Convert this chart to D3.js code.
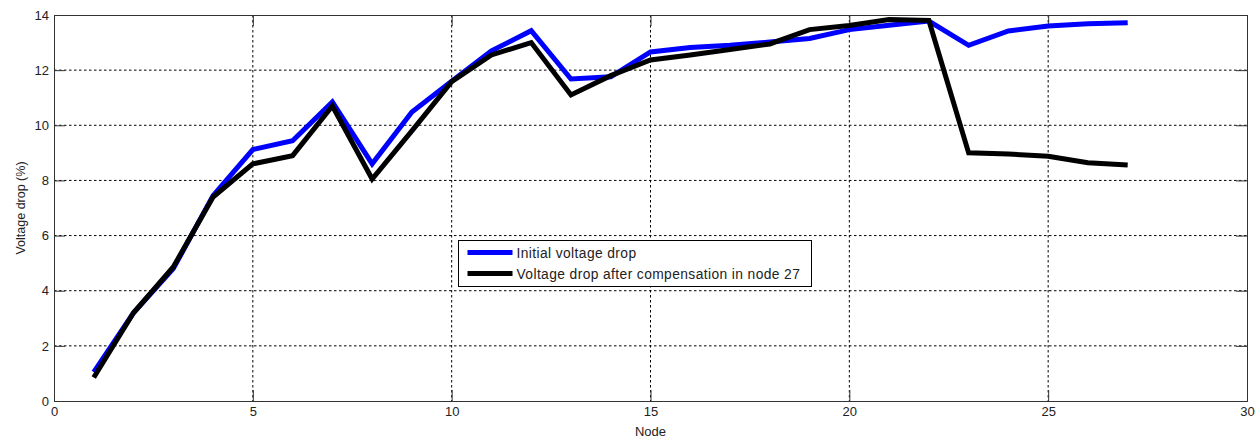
<!DOCTYPE html>
<html>
<head>
<meta charset="utf-8">
<script src="https://cdn.jsdelivr.net/npm/d3@7"></script>
<style>
  body { margin: 0; background: #fff; }
  svg text { font-family: "Liberation Sans", Arial, sans-serif; fill: #222; }
</style>
</head>
<body>
<svg id="chart" width="1260" height="440"></svg>
<script>
// data
const nodes = [1,2,3,4,5,6,7,8,9,10,11,12,13,14,15,16,17,18,19,20,21,22,23,24,25,26,27];
const initialDrop = [1.05,3.2,4.8,7.45,9.12,9.44,10.85,8.6,10.48,11.6,12.7,13.43,11.68,11.76,12.66,12.82,12.9,13.02,13.15,13.47,13.63,13.78,12.9,13.42,13.6,13.68,13.72];
const compensatedDrop = [0.85,3.2,4.86,7.4,8.6,8.9,10.7,8.05,9.8,11.58,12.55,13.0,11.1,11.8,12.37,12.55,12.75,12.95,13.47,13.62,13.84,13.8,9.0,8.96,8.88,8.64,8.56];
const xTicks = [0,5,10,15,20,25,30];
const yTicks = [0,2,4,6,8,10,12,14];
const seriesNames = ['Initial voltage drop', 'Voltage drop after compensation in node 27'];
const seriesColors = ['#0000ff', '#000000'];

const svg = d3.select('#chart');
const margin = {left: 54, top: 15, right: 13, bottom: 39};
const width = +svg.attr('width');
const height = +svg.attr('height');
const innerWidth = width - margin.left - margin.right;
const innerHeight = height - margin.top - margin.bottom;

const chart = svg.append('g')
  .attr('transform', `translate(${margin.left},${margin.top})`);

const xScale = d3.scaleLinear().domain([0, 30]).range([0, innerWidth]);
const yScale = d3.scaleLinear().domain([0, 14]).range([innerHeight, 0]);

// dotted grid
chart.append('g').selectAll('line.gx')
  .data(xTicks.slice(1, -1))
  .join('line')
  .attr('x1', d => xScale(d)).attr('x2', d => xScale(d))
  .attr('y1', 0).attr('y2', innerHeight)
  .attr('stroke', '#000').attr('stroke-width', 1)
  .attr('stroke-dasharray', '2.5,2.5');

chart.append('g').selectAll('line.gy')
  .data(yTicks.slice(1, -1))
  .join('line')
  .attr('x1', 0).attr('x2', innerWidth)
  .attr('y1', d => yScale(d)).attr('y2', d => yScale(d))
  .attr('stroke', '#000').attr('stroke-width', 1)
  .attr('stroke-dasharray', '2.5,2.5');

// axes, ticks pointing inwards like matlab
const tickLen = 11;
const xAxisG = chart.append('g')
  .attr('transform', `translate(0,${innerHeight})`)
  .call(d3.axisBottom(xScale).tickValues(xTicks).tickSize(-tickLen).tickPadding(6));
const yAxisG = chart.append('g')
  .call(d3.axisLeft(yScale).tickValues(yTicks).tickSize(-tickLen).tickPadding(5));
const xTopG = chart.append('g')
  .call(d3.axisTop(xScale).tickValues(xTicks).tickSize(-tickLen).tickFormat(''));
const yRightG = chart.append('g')
  .attr('transform', `translate(${innerWidth},0)`)
  .call(d3.axisRight(yScale).tickValues(yTicks).tickSize(-tickLen).tickFormat(''));

// top and right axes only carry tick marks
xTopG.selectAll('.tick text').remove();
yRightG.selectAll('.tick text').remove();

[xAxisG, yAxisG, xTopG, yRightG].forEach(g => {
  g.select('.domain').attr('stroke', '#333');
  g.selectAll('.tick line').attr('stroke', '#333');
  g.selectAll('.tick text').attr('font-size', 13).attr('fill', '#222');
});

// lines
const line = d3.line()
  .x((d, i) => xScale(nodes[i]))
  .y(d => yScale(d));

[initialDrop, compensatedDrop].forEach((vals, k) => {
  chart.append('path')
    .datum(vals)
    .attr('fill', 'none')
    .attr('stroke', seriesColors[k])
    .attr('stroke-width', 5)
    .attr('stroke-linejoin', 'miter')
    .attr('d', line);
});

// axis titles
svg.append('text')
  .attr('x', margin.left + xScale(15)).attr('y', 436)
  .attr('text-anchor', 'middle').attr('font-size', 13)
  .text('Node');

svg.append('text')
  .attr('transform', `translate(25,${margin.top + innerHeight / 2}) rotate(-90)`)
  .attr('text-anchor', 'middle').attr('font-size', 12.5)
  .text('Voltage drop (%)');

// legend
const legend = svg.append('g').attr('transform', 'translate(458.5,240.5)');
legend.append('rect')
  .attr('width', 353).attr('height', 46)
  .attr('fill', '#fff').attr('stroke', '#000').attr('stroke-width', 1);

seriesNames.forEach((name, k) => {
  const yy = 12 + k * 21;
  legend.append('line')
    .attr('x1', 9).attr('x2', 54).attr('y1', yy).attr('y2', yy)
    .attr('stroke', seriesColors[k]).attr('stroke-width', 5);
  legend.append('text')
    .attr('x', 58).attr('y', yy + 5)
    .attr('font-size', 13.8)
    .attr('letter-spacing', 0.4)
    .text(name);
});
</script>
</body>
</html>
